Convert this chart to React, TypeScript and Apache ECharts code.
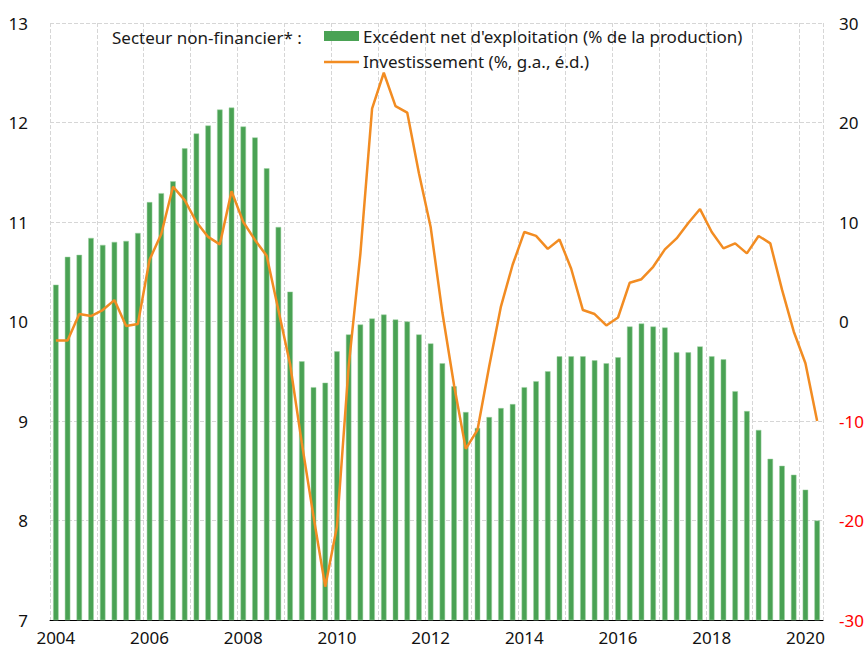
import React, { useEffect, useRef } from "react";
import * as echarts from "echarts";

const years = [2004, 2005, 2006, 2007, 2008, 2009, 2010, 2011, 2012, 2013, 2014, 2015, 2016, 2017, 2018, 2019, 2020];
const quarters = ["T1", "T2", "T3", "T4"];

// Excédent net d'exploitation (% de la production), quarterly 2004T1 - 2020T2
const surplus = [
  10.37, 10.65, 10.67, 10.84,
  10.77, 10.8, 10.81, 10.89,
  11.2, 11.29, 11.41, 11.74,
  11.89, 11.97, 12.13, 12.15,
  11.96, 11.85, 11.54, 10.95,
  10.3, 9.6, 9.34, 9.385,
  9.7, 9.87, 9.97, 10.03,
  10.07, 10.02, 10.0, 9.87,
  9.78, 9.58, 9.35, 9.09,
  8.93, 9.04, 9.13, 9.17,
  9.34, 9.4, 9.5, 9.65,
  9.65, 9.65, 9.61, 9.58,
  9.64, 9.95, 9.98, 9.95,
  9.94, 9.69, 9.69, 9.75,
  9.65, 9.62, 9.3, 9.1,
  8.91, 8.62, 8.55, 8.46,
  8.31, 8.0,
];

// Investissement (%, g.a., é.d.)
const investment = [
  -1.9, -1.9, 0.75, 0.55,
  1.15, 2.15, -0.45, -0.25,
  6.2, 8.8, 13.55, 12.2,
  10.0, 8.5, 7.75, 13.1,
  10.0, 8.2, 6.6, 1.15,
  -4.3, -12.2, -19.6, -26.65,
  -20.6, -4.5, 6.8, 21.4,
  25.0, 21.65, 21.0, 14.9,
  9.5, 0.9, -6.4, -12.8,
  -10.9, -4.5, 1.5, 5.7,
  9.0, 8.6, 7.3, 8.25,
  5.3, 1.15, 0.75, -0.4,
  0.4, 3.9, 4.25, 5.5,
  7.25, 8.35, 9.9, 11.3,
  9.0, 7.35, 7.85, 6.85,
  8.6, 7.85, 3.2, -1.0,
  -4.2, -10.0,
];

const categories: string[] = [];
years.forEach((y) => quarters.forEach((q) => categories.push(`${y}-${q}`)));
categories.length = surplus.length;

const leftTicks = { min: 7, max: 13, interval: 1 };
const rightTicks = { min: -30, max: 30, interval: 10 };

const titleText = "Secteur non-financier* :";
const barName = "Excédent net d'exploitation (% de la production)";
const lineName = "Investissement (%, g.a., é.d.)";

const GREEN = "#4aa254";
const ORANGE = "#f28c22";
const FONT = "Noto Sans";
const FS = 17;
const TXT = "#1a1a1a";

export default function App() {
  const ref = useRef<HTMLDivElement>(null);
  useEffect(() => {
    if (!ref.current) return;
    const chart = echarts.init(ref.current, null, { renderer: "svg" });
    const font = `${FS}px "${FONT}"`;
    chart.setOption({
      animation: false,
      backgroundColor: "#ffffff",
      textStyle: { fontFamily: FONT },
      graphic: [
        {
          type: "text",
          x: 112,
          y: 37,
          z: 10,
          style: { text: titleText, font, fill: TXT, align: "left", verticalAlign: "middle" },
        },
        {
          type: "rect",
          z: 10,
          shape: { x: 324, y: 31, width: 35, height: 10 },
          style: { fill: GREEN },
        },
        {
          type: "text",
          x: 363,
          y: 36,
          z: 10,
          style: { text: barName, font, fill: TXT, align: "left", verticalAlign: "middle" },
        },
        {
          type: "line",
          z: 10,
          shape: { x1: 324, y1: 62, x2: 359, y2: 62 },
          style: { stroke: ORANGE, lineWidth: 2.5 },
        },
        {
          type: "text",
          x: 363,
          y: 61,
          z: 10,
          style: { text: lineName, font, fill: TXT, align: "left", verticalAlign: "middle" },
        },
      ],
      grid: { left: 50, right: 44, top: 23, bottom: 28 },
      xAxis: {
        type: "category",
        data: categories,
        boundaryGap: true,
        axisLine: { onZero: false, lineStyle: { color: "#000", width: 1 } },
        axisTick: { interval: (i: number) => i % 4 === 0, length: 5, lineStyle: { color: "#000" } },
        axisLabel: {
          interval: (i: number) => i % 8 === 0,
          formatter: (v: string) => v.slice(0, 4),
          fontFamily: FONT,
          fontSize: FS,
          lineHeight: 17,
          color: "#111",
          margin: 9,
        },
        splitLine: {
          show: true,
          interval: (i: number) => i % 4 === 0,
          lineStyle: { type: "dashed", color: "#d6d6d6", width: 1 },
        },
      },
      yAxis: [
        {
          type: "value",
          ...leftTicks,
          axisLine: { show: false },
          axisTick: { show: false },
          axisLabel: { fontFamily: FONT, fontSize: FS, color: "#111", margin: 22 },
          splitLine: { lineStyle: { type: "dashed", color: "#d6d6d6", width: 1 } },
        },
        {
          type: "value",
          position: "right",
          ...rightTicks,
          axisLine: { show: false },
          axisTick: { show: false },
          axisLabel: {
            fontFamily: FONT,
            fontSize: FS,
            margin: 16,
            color: (v: any) => (Number(v) < 0 ? "#ff0000" : "#111"),
          },
          splitLine: { show: false },
        },
      ],
      series: [
        {
          name: barName,
          type: "bar",
          yAxisIndex: 0,
          data: surplus,
          barWidth: 5.5,
          itemStyle: { color: GREEN, borderColor: "#9fd3a3", borderWidth: 0.5 },
        },
        {
          name: lineName,
          type: "line",
          yAxisIndex: 1,
          data: investment,
          symbol: "none",
          lineStyle: { color: ORANGE, width: 2.5 },
          itemStyle: { color: ORANGE },
          z: 3,
        },
      ],
    });
    return () => chart.dispose();
  }, []);
  return (
    <div
      ref={ref}
      style={{ position: "absolute", left: 0, top: 0, width: 867, height: 648 }}
    />
  );
}
